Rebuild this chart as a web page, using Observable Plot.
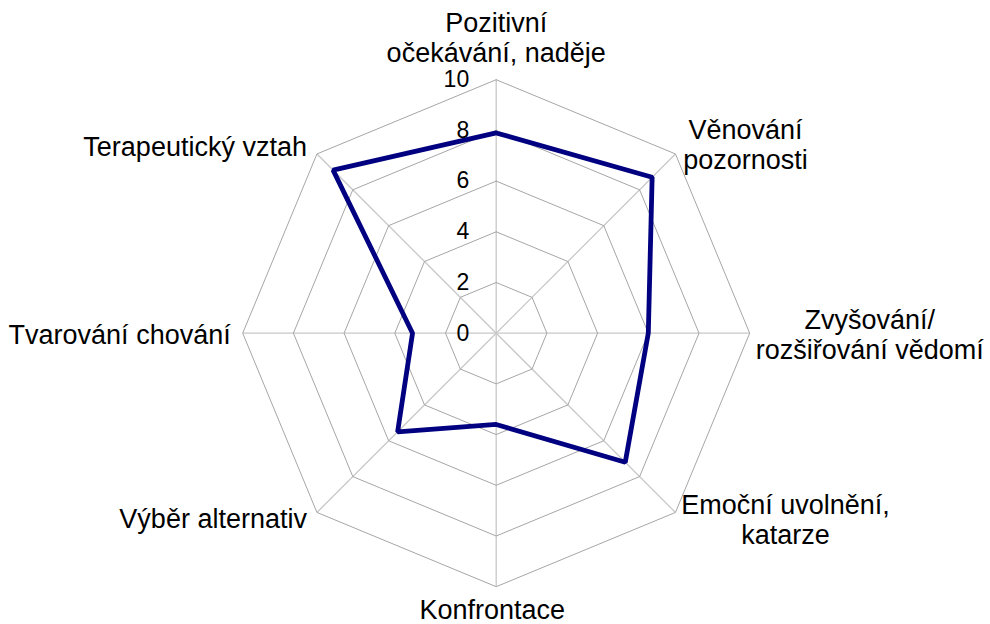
<!DOCTYPE html>
<html><head><meta charset="utf-8">
<script src="https://cdn.jsdelivr.net/npm/d3@7"></script>
<script src="https://cdn.jsdelivr.net/npm/@observablehq/plot@0.6"></script>
<style>body{margin:0;background:#fff} svg{display:block}</style>
</head><body><div id="chart"></div>
<script>
const categories = ["Pozitivní\nočekávání, naděje", "Věnování\npozornosti", "Zvyšování/\nrozšiřování vědomí", "Emoční uvolnění,\nkatarze", "Konfrontace", "Výběr alternativ", "Tvarování chování", "Terapeutický vztah"];
const values = [7.9, 8.7, 6.0, 7.2, 3.6, 5.5, 3.3, 9.1];
const ticks = [0, 2, 4, 6, 8, 10];
const maxValue = 10;

// layout
const W = 990, H = 624, cx = 495.7, cy = 332.7, R = 253.5;
const k = R / maxValue;
const n = categories.length;
const ang = i => (i / n) * 2 * Math.PI;
const px = (i, v) => v * Math.sin(ang(i));
const py = (i, v) => v * Math.cos(ang(i));

const labelLayout = [
  {anchor: "middle", dx: 0, dy: -42},
  {anchor: "middle", dx: 70, dy: -10},
  {anchor: "middle", dx: 120, dy: 1},
  {anchor: "middle", dx: 110, dy: 7},
  {anchor: "middle", dx: -4, dy: 23},
  {anchor: "end", dx: -10, dy: 6},
  {anchor: "end", dx: -12, dy: 1},
  {anchor: "end", dx: -10, dy: -8}
];

const rings = [];
ticks.filter(t => t > 0).forEach(t => {
  for (let i = 0; i <= n; i++) rings.push({level: t, x: px(i % n, t), y: py(i % n, t)});
});
const spokes = categories.map((c, i) => ({x2: px(i, maxValue), y2: py(i, maxValue)}));
const series = values.concat([values[0]]).map((v, j) => ({x: px(j % n, v), y: py(j % n, v)}));

const labelMarks = categories.map((c, i) => Plot.text([c], {
  x: px(i, maxValue), y: py(i, maxValue), text: d => d,
  textAnchor: labelLayout[i].anchor, lineAnchor: "middle",
  dx: labelLayout[i].dx, dy: labelLayout[i].dy,
  fontSize: 27, lineHeight: 1.11, fill: "#000"
}));

const chart = Plot.plot({
  width: W, height: H,
  marginLeft: 0, marginRight: 0, marginTop: 0, marginBottom: 0,
  style: {fontFamily: "'Liberation Sans', Arial, sans-serif", background: "#fff"},
  x: {domain: [-cx / k, (W - cx) / k], axis: null},
  y: {domain: [(cy - H) / k, cy / k], axis: null},
  marks: [
    Plot.link(spokes, {x1: 0, y1: 0, x2: "x2", y2: "y2", stroke: "#c8c8c8", strokeWidth: 1.3}),
    Plot.line(rings, {x: "x", y: "y", z: "level", stroke: "#a6a6a6", strokeWidth: 1}),
    Plot.line(series, {x: "x", y: "y", stroke: "#000080", strokeWidth: 4.8, strokeLinejoin: "miter"}),
    Plot.text(ticks, {x: 0, y: d => d, text: d => String(d), textAnchor: "end", dx: -27, fontSize: 23, fill: "#000"}),
    ...labelMarks
  ]
});
document.getElementById("chart").appendChild(chart);
</script>
</body></html>
